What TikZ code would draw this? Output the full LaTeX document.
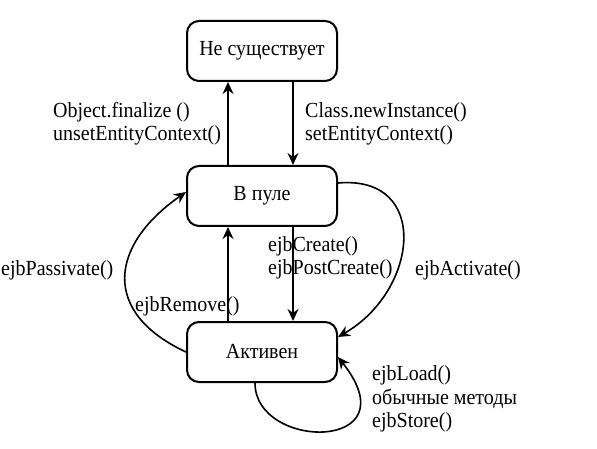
\documentclass[tikz,border=0pt]{standalone}
\usepackage{fontspec}
\setmainfont[FakeStretch=0.93]{Liberation Serif}
\usetikzlibrary{arrows.meta}
\begin{document}
\begin{tikzpicture}[x=1pt, y=1pt, font=\fontsize{21.5}{23.5}\selectfont, line join=round, line cap=round, >={Stealth[length=12pt,width=11pt]},
	state/.style={draw, line width=2pt, rounded corners=12pt, minimum width=150pt, minimum height=60pt},
	trans/.style={->, line width=1.6pt},
	lbl/.style={align=left, inner sep=0pt, anchor=west}]
	\useasboundingbox (0,0) rectangle (597,-449);
	% состояния
	\node[state] (none) at (262,-51) {Не существует};
	\node[state] (pool) at (262,-196) {В пуле};
	\node[state] (active) at (262,-352) {Активен};
	% подписи
	\node[lbl] (lfin) at (53,-124) {Object.finalize ()\\unsetEntityContext()};
	\node[lbl] (lnew) at (305,-124) {Class.newInstance()\\setEntityContext()};
	\node[lbl] (lcreate) at (268,-258) {ejbCreate()\\ejbPostCreate()};
	\node[lbl] (lpass) at (1,-270) {ejbPassivate()};
	\node[lbl] (lact) at (415,-270) {ejbActivate()};
	\node[lbl] (lrem) at (135,-306) {ejbRemove()};
	\node[lbl] (lload) at (372,-399) {ejbLoad()\\обычные методы\\ejbStore()};
	% переходы
	\draw[trans] ([xshift=-34pt]pool.north) -- ([xshift=-34pt]none.south);
	\draw[trans] ([xshift=31pt]none.south) -- ([xshift=31pt]pool.north);
	\draw[trans] ([xshift=-34pt]active.north) -- ([xshift=-34pt]pool.south);
	\draw[trans] ([xshift=31pt]pool.south) -- ([xshift=31pt]active.north);
	\draw[trans] (active.west) to[out=155,in=215,looseness=1.5] ([yshift=4pt]pool.west);
	\draw[trans] ([yshift=13pt]pool.east) to[out=5,in=30,looseness=1.55] ([yshift=15pt]active.east);
	\draw[trans] ([xshift=-7pt]active.south) .. controls +(0,-68) and +(75,-95) .. ([yshift=-5pt]active.east);
\end{tikzpicture}
\end{document}
